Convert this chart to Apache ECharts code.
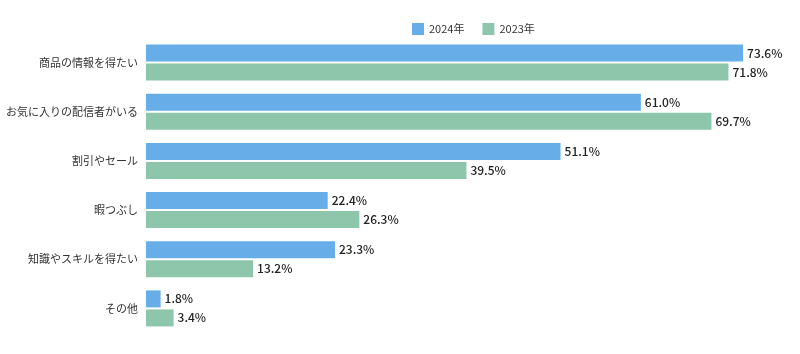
<!DOCTYPE html>
<html>
<head>
<meta charset="utf-8">
<script src="https://cdn.jsdelivr.net/npm/echarts@6/dist/echarts.min.js"></script>
<style>html,body{margin:0;padding:0;background:#fff;}#c{width:800px;height:354px;}</style>
</head>
<body>
<div id="c"></div>
<script>
const categories = ['商品の情報を得たい', 'お気に入りの配信者がいる', '割引やセール', '暇つぶし', '知識やスキルを得たい', 'その他'];
const seriesNames = ['2024年', '2023年'];
const values2024 = [73.6, 61.0, 51.1, 22.4, 23.3, 1.8];
const values2023 = [71.8, 69.7, 39.5, 26.3, 13.2, 3.4];

const FONT = '"Noto Sans CJK JP", "Noto Sans", sans-serif';
const chart = echarts.init(document.getElementById('c'), null, {renderer: 'canvas'});
const labelCfg = {
  show: true,
  position: 'right',
  distance: 4,
  color: '#222',
  fontSize: 12,
  fontFamily: FONT,
  fontWeight: 500,
  formatter: p => p.value.toFixed(1) + '%'
};
chart.setOption({
  animation: false,
  textStyle: {fontFamily: FONT},
  legend: {
    data: seriesNames,
    left: 407,
    top: 18,
    icon: 'rect',
    itemWidth: 12,
    itemHeight: 12,
    itemGap: 18,
    textStyle: {fontSize: 11, color: '#333', fontFamily: FONT}
  },
  grid: {left: 146, right: 5, top: 38, bottom: 21},
  xAxis: {
    type: 'value', min: 0, max: 80,
    show: false
  },
  yAxis: {
    type: 'category',
    data: categories,
    inverse: true,
    axisLine: {show: false},
    axisTick: {show: false},
    axisLabel: {fontSize: 11, color: '#333', margin: 8, fontFamily: FONT}
  },
  series: [
    {name: seriesNames[0], type: 'bar', data: values2024, barWidth: 17, barGap: '12%',
     itemStyle: {color: '#67aee9'}, label: labelCfg},
    {name: seriesNames[1], type: 'bar', data: values2023, barWidth: 17, barGap: '12%',
     itemStyle: {color: '#8dc6ab'}, label: labelCfg}
  ]
});
</script>
</body>
</html>
